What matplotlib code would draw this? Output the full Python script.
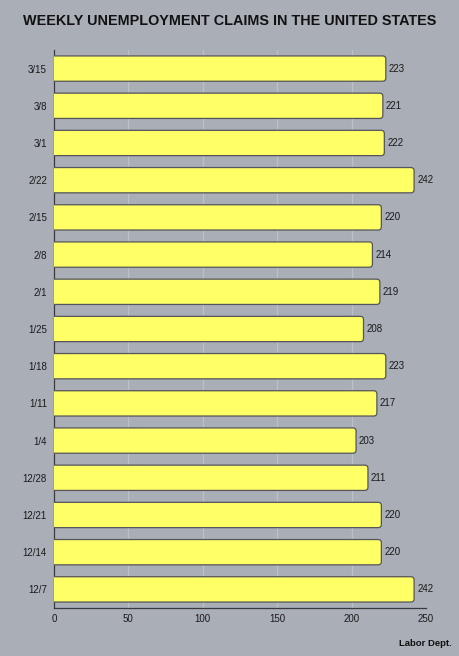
import matplotlib
matplotlib.use("Agg")
import matplotlib.pyplot as plt
from matplotlib.patches import FancyBboxPatch

# weekly claims (thousands), bottom to top
weeks = ["12/7", "12/14", "12/21", "12/28", "1/4", "1/11", "1/18", "1/25",
         "2/1", "2/8", "2/15", "2/22", "3/1", "3/8", "3/15"]
claims = [242, 220, 220, 211, 203, 217, 223, 208,
          219, 214, 220, 242, 222, 221, 223]
xticks = [0, 50, 100, 150, 200, 250]

plt.rcParams['font.family'] = ['Liberation Sans', 'DejaVu Sans']

bg = "#a9aeb7"
fig = plt.figure(figsize=(4.59, 6.56), dpi=100, facecolor=bg)
ax = fig.add_axes([0.1176, 0.0732, 0.8105, 0.8506], facecolor=bg)

ax.set_xlim(0, 250)
ax.set_ylim(-0.5, len(weeks) - 0.5)

bar_h = 0.68
# x units per pixel vs y units per pixel, to keep the corners round
aspect = (1 / 37.2) / (250 / 372)
for i, v in enumerate(claims):
    p = FancyBboxPatch((-3, i - bar_h / 2), v + 3, bar_h,
                       boxstyle="round,pad=0,rounding_size=2.2",
                       mutation_aspect=aspect,
                       facecolor="#ffff66", edgecolor="#55555a", linewidth=0.9,
                       clip_on=True, zorder=3)
    ax.add_patch(p)
    ax.text(v + 2, i, str(v), va="center", ha="left", fontsize=7,
            color="#1a1a1a", zorder=4)

ax.set_yticks(range(len(weeks)))
ax.set_yticklabels(weeks, fontsize=7, color="#1a1a1a")
ax.set_xticks(xticks)
ax.set_xticklabels([str(t) for t in xticks], fontsize=7, color="#1a1a1a")
ax.tick_params(axis="both", length=0)
ax.tick_params(axis="y", pad=5)
ax.tick_params(axis="x", pad=4)

ax.grid(axis="x", color="#bcc0c7", linewidth=0.9, zorder=0)
ax.set_axisbelow(True)
for s in ["top", "right"]:
    ax.spines[s].set_visible(False)
for s in ["left", "bottom"]:
    ax.spines[s].set_color("#3a3a3e")
    ax.spines[s].set_linewidth(0.9)

fig.text(0.5, 0.978, "WEEKLY UNEMPLOYMENT CLAIMS IN THE UNITED STATES",
         ha="center", va="top", fontsize=10.4, fontweight="bold", color="#111111")
fig.text(0.985, 0.012, "Labor Dept.", ha="right", va="bottom",
         fontsize=6.8, fontweight="bold", color="#111111")

fig.savefig("out.png", dpi=100, facecolor=bg)
